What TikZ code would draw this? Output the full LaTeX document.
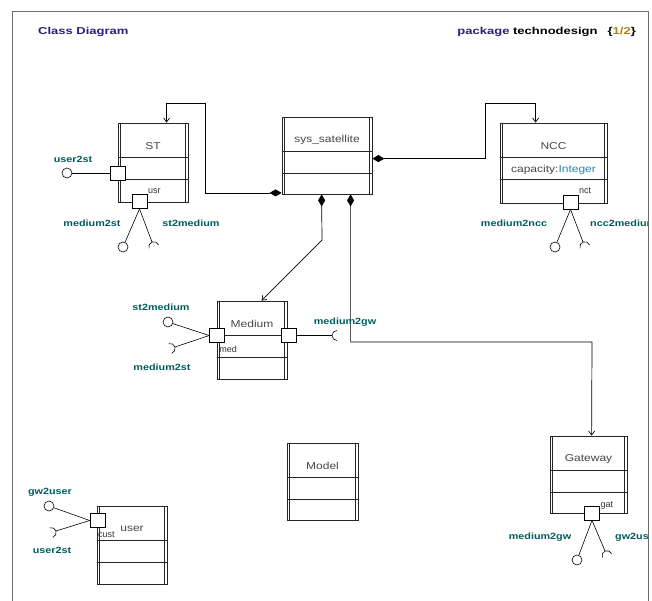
\documentclass[tikz,border=0pt]{standalone}
\usepackage{fontspec}
\setmainfont{Liberation Sans}
\newfontfamily\widesans[FakeStretch=1.2]{Liberation Sans}
\newfontfamily\widersans[FakeStretch=1.3]{Liberation Sans}
\usetikzlibrary{positioning,arrows.meta,calc}
\definecolor{framegray}{RGB}{110,110,110}
\definecolor{titlenavy}{RGB}{45,30,120}
\definecolor{portteal}{RGB}{0,92,92}
\definecolor{typeblue}{RGB}{40,130,170}
\definecolor{pagegold}{RGB}{170,130,30}
\definecolor{classtext}{RGB}{70,70,70}
\newcommand{\socket}[2]{\draw[iface,shift={(#1)},rotate=#2] (5,5) arc[start angle=90,end angle=270,radius=5];}
\newcommand{\umlclass}[5]{%
  \node[classbox,minimum width=#3,minimum height=#4] (#1) at (#2) {};
  \draw[classline] ($(#1.north west)+(0,-35)$) -- ($(#1.north east)+(0,-35)$);
  \draw[classline] ($(#1.north west)+(0,-57)$) -- ($(#1.north east)+(0,-57)$);
  \draw[classline] ($(#1.north west)+(3,0)$) -- ($(#1.south west)+(3,0)$);
  \draw[classline] ($(#1.north east)+(-3,0)$) -- ($(#1.south east)+(-3,0)$);
  \node[classname] (#1name) at ($(#1.north)+(0,-23)$) {#5};
}
\tikzset{
  classbox/.style={rectangle,draw=black!85,line width=0.8pt,fill=white,inner sep=0pt},
  classline/.style={draw=black!85,line width=0.8pt},
  classname/.style={font=\widesans\fontsize{10}{12}\selectfont,text=classtext,inner sep=1pt},
  portbox/.style={rectangle,draw=black,line width=0.7pt,fill=white,minimum size=14pt,inner sep=0pt},
  ball/.style={circle,draw=black,line width=0.6pt,fill=white,minimum size=10pt,inner sep=0pt},
  iface/.style={draw=black,line width=0.6pt},
  portname/.style={font=\widesans\fontsize{9}{10}\selectfont\bfseries,text=portteal,inner sep=0pt},
  partname/.style={font=\fontsize{9}{10}\selectfont,text=black!80,inner sep=0.5pt},
  assoc/.style={{Diamond[length=12pt,width=7pt]}-{Straight Barb[length=4pt,width=6pt]},line width=0.7pt},
  heading/.style={font=\widersans\fontsize{10}{12}\selectfont\bfseries,inner sep=0pt}
}

\begin{document}
\begin{tikzpicture}[x=1pt,y=1pt]
  \useasboundingbox (0,0) rectangle (652,-601);
  \fill[white] (0,0) rectangle (652,-601);
  \draw[framegray,line width=1pt] (12,-601) -- (12,-12) -- (648,-12) -- (648,-601);

  \node[heading,text=titlenavy,anchor=west] (title) at (38,-32) {Class Diagram};
  \node[heading,anchor=east] (pkg) at (636,-32) {\textcolor{titlenavy}{package} technodesign\quad\{\textcolor{pagegold}{1/2}\}};

  \umlclass{st}{153,-162.5}{70pt}{79pt}{ST}
  \umlclass{sat}{327,-155.5}{90pt}{77pt}{sys\_satellite}
  \umlclass{ncc}{553.5,-163}{107pt}{80pt}{NCC}
  \umlclass{medium}{252,-340}{70pt}{78pt}{Medium}
  \umlclass{model}{322.5,-481.5}{71pt}{77pt}{Model}
  \umlclass{gw}{588.5,-474.5}{77pt}{77pt}{Gateway}
  \umlclass{user}{132,-545}{70pt}{78pt}{user}
  \node[classname] (nccattr) at ($(ncc.north)+(0,-47)$) {capacity:\textcolor{typeblue}{Integer}};

  \coordinate (stbend) at (205,-103);
  \coordinate (nccbend) at (485,-103);
  \coordinate (mdbend) at (322,-240);
  \coordinate (gwbend) at (592,-342);
  \draw[assoc] ($(sat.south west)+(0,1.5)$) -| (stbend) -| ($(st.north west)+(49,0)$);
  \draw[assoc] ($(sat.north east)+(0,-42)$) -| (nccbend) -| ($(ncc.north west)+(36,0)$);
  \draw[assoc] ($(sat.south west)+(40,0)$) -- (mdbend) -- ($(medium.north west)+(45,0)$);
  \draw[assoc] ($(sat.south west)+(69,0)$) |- (gwbend) -- ($(gw.north west)+(42,0)$);

  \node[portbox,minimum width=15pt] (stP1) at (117.5,-173) {};
  \node[portbox,minimum width=15pt] (stP2) at (139.5,-201.5) {};
  \node[portbox,minimum width=15pt] (nccP) at (570.5,-202) {};
  \node[portbox,minimum width=15pt] (mdP1) at (217,-335.5) {};
  \node[portbox,minimum width=15pt] (mdP2) at (288.5,-335.5) {};
  \node[portbox,minimum width=15pt] (gwP) at (592,-513) {};
  \node[portbox,minimum width=15pt] (uP) at (97.5,-520.5) {};

  \node[ball] (stB1) at (67,-173) {};
  \node[ball] (stB2) at (123,-247) {};
  \node[ball] (nccB) at (555,-247) {};
  \node[ball] (mdB1) at (168,-322) {};
  \node[ball] (gwB) at (577,-560) {};
  \node[ball] (uB) at (49,-506) {};
  \coordinate (stS2) at (152,-242);
  \coordinate (nccS) at (583,-242);
  \coordinate (mdS1) at (175,-347);
  \coordinate (mdS2) at (332,-335.5);
  \coordinate (gwS) at (605,-551);
  \coordinate (uS) at (56,-531);

  \draw[iface] (stP1) -- (stB1);
  \draw[iface] (stP2.south) -- (stB2);
  \draw[iface] (stP2.south) -- (stS2);
  \draw[iface] (nccP.south) -- (nccB);
  \draw[iface] (nccP.south) -- (nccS);
  \draw[iface] (mdP1.west) -- (mdB1);
  \draw[iface] (mdP1.west) -- (mdS1);
  \draw[iface] (mdP2.east) -- (mdS2);
  \draw[iface] (gwP.south) -- (gwB);
  \draw[iface] (gwP.south) -- (gwS);
  \draw[iface] (uP.west) -- (uB);
  \draw[iface] (uP.west) -- (uS);
  \socket{stS2}{-69}
  \socket{nccS}{-69}
  \socket{mdS1}{197}
  \socket{mdS2}{0}
  \socket{gwS}{-67}
  \socket{uS}{198}

  \node[partname,anchor=south west] (usr) at (stP2.north east) {usr};
  \node[partname,anchor=south west] (nct) at (nccP.north east) {nct};
  \node[partname,anchor=west] (gat) at (gwP.north east) {gat};
  \node[partname,anchor=north west] (med) at ($(medium.north west)+(2,-45)$) {med};
  \node[partname,anchor=north west] (cust) at ($(uP.south)+(0,-3)$) {cust};

  \node[portname] (lbUser2st) at (73,-159) {user2st};
  \node[portname] (lbMedium2st) at (92,-223) {medium2st};
  \node[portname] (lbSt2medium) at (191,-223) {st2medium};
  \node[portname] (lbMedium2ncc) at (514,-223) {medium2ncc};
  \node[portname] (lbMdSt2medium) at (161,-307) {st2medium};
  \node[portname] (lbMdMedium2st) at (162,-367) {medium2st};
  \node[portname] (lbMdMedium2gw) at (345,-322) {medium2gw};
  \node[portname] (lbGwMedium2gw) at (540,-537) {medium2gw};
  \node[portname] (lbGw2user) at (50,-492) {gw2user};
  \node[portname] (lbUUser2st) at (52,-550) {user2st};
  \begin{scope}
    \clip (12,-12) rectangle (647.5,-601);
    \node[portname,anchor=west] (lbNcc2medium) at (590,-223) {ncc2medium};
    \node[portname,anchor=west] (lbGwGw2user) at (615,-537) {gw2user};
  \end{scope}
\end{tikzpicture}
\end{document}
